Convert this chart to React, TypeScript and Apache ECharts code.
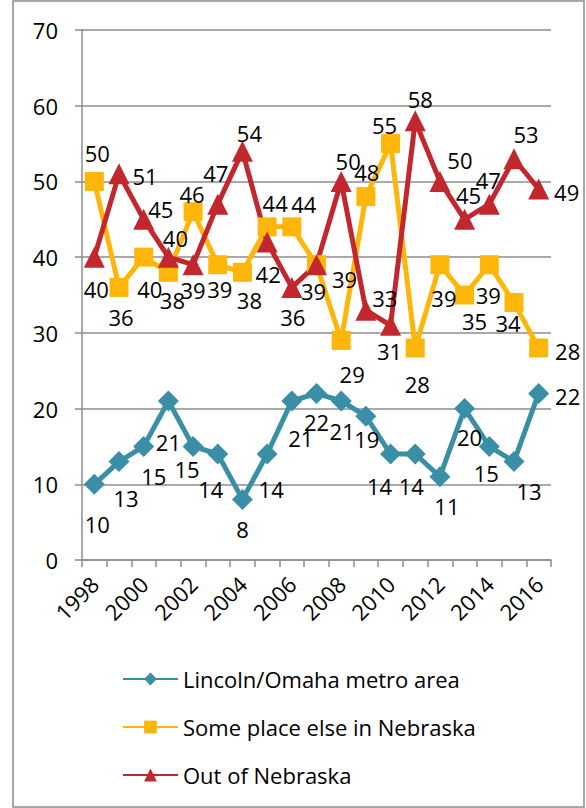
import React, { useEffect, useRef } from "react";
import * as echarts from "echarts";

const years = ["1998","1999","2000","2001","2002","2003","2004","2005","2006","2007","2008","2009","2010","2011","2012","2013","2014","2015","2016"];
const lincolnOmaha = [10,13,15,21,15,14,8,14,21,22,21,19,14,14,11,20,15,13,22];
const elseNebraska = [50,36,40,38,46,39,38,44,44,39,29,48,55,28,39,35,39,34,28];
const outNebraska = [40,51,45,40,39,47,54,42,36,39,50,33,31,58,50,45,47,53,49];

// data-label offsets (px) from each marker, as placed in the original
const lincolnLabelOffset = [[3,39],[7,35],[10,29],[0,40],[-6,22],[-7,34],[0,29],[4,34],[9,36],[0,28],[1,29],[1,22],[-11,31],[-4,31],[7,28],[5,27],[-3,26],[15,28],[29,2]];
const elseLabelOffset = [[3,-29],[2,29],[6,31],[4,27],[-1,-19],[2,23],[7,27],[8,-25],[12,-24],[-3,25],[11,33],[1,-26],[-6,-20],[2,35],[4,32],[10,25],[-1,29],[-6,19],[29,2]];
const outLabelOffset = [[2,31],[26,1],[17,-11],[7,-20],[0,24],[-2,-32],[7,-19],[1,31],[1,29],[28,13],[7,-21],[19,-13],[-1,25],[5,-23],[20,-22],[4,-25],[-1,-25],[12,-26],[28,2]];

const FONT = "'Open Sans', 'Noto Sans', sans-serif";
const FS = 22;

export default function App() {
  const ref = useRef<HTMLDivElement>(null);
  useEffect(() => {
    if (!ref.current) return;
    const chart = echarts.init(ref.current, undefined, { renderer: "svg" });
    const mk = (name: string, vals: number[], offs: number[][], color: string, symbol: string, size: number) => ({
      name,
      type: "line",
      data: vals.map((v, i) => ({
        value: v,
        label: { position: [size / 2 + offs[i][0], size / 2 + offs[i][1] + 1] },
      })),
      symbol,
      symbolSize: size,
      showAllSymbol: true,
      lineStyle: { color, width: 5 },
      itemStyle: { color },
      label: {
        show: true,
        align: "center",
        verticalAlign: "middle",
        fontSize: FS,
        color: "#000",
        fontFamily: FONT,
      },
      labelLayout: { hideOverlap: false },
    });
    chart.setOption({
      animation: false,
      graphic: [
        { type: "rect", shape: { x: 13, y: 1, width: 571, height: 806 }, style: { fill: "none", stroke: "#8c8c8c", lineWidth: 1.5 } },
      ],
      grid: { left: 82, right: 35, top: 30, bottom: 248, containLabel: false },
      legend: {
        orient: "vertical",
        left: 117,
        top: 663,
        itemWidth: 55,
        itemHeight: 16,
        itemGap: 26,
        textStyle: { fontSize: FS, fontFamily: FONT, color: "#000" },
        data: ["Lincoln/Omaha metro area", "Some place else in Nebraska", "Out of Nebraska"],
      },
      xAxis: {
        type: "category",
        data: years,
        boundaryGap: true,
        axisLine: { lineStyle: { color: "#8c8c8c", width: 1.5 } },
        axisTick: { show: true, interval: 0, length: 7, lineStyle: { color: "#8c8c8c", width: 1.5 } },
        axisLabel: { interval: 1, rotate: 45, fontSize: FS, color: "#000", fontFamily: FONT, margin: 20 },
      },
      yAxis: {
        type: "value",
        min: 0,
        max: 70,
        interval: 10,
        axisLine: { show: true, lineStyle: { color: "#8c8c8c", width: 1.5 } },
        axisTick: { show: true, length: 7, lineStyle: { color: "#8c8c8c", width: 1.5 } },
        splitLine: { lineStyle: { color: "#8c8c8c", width: 1.5 } },
        axisLabel: { fontSize: FS, color: "#000", fontFamily: FONT, margin: 24 },
      },
      series: [
        mk("Lincoln/Omaha metro area", lincolnOmaha, lincolnLabelOffset, "#3A8FA6", "diamond", 21),
        mk("Some place else in Nebraska", elseNebraska, elseLabelOffset, "#FFB60A", "rect", 19),
        mk("Out of Nebraska", outNebraska, outLabelOffset, "#C1272D", "triangle", 21),
      ],
    });
    return () => chart.dispose();
  }, []);
  return (
    <div style={{ position: "fixed", left: 0, top: 0, width: 586, height: 808, background: "#fff" }}>
      <div ref={ref} style={{ width: 586, height: 808 }} />
    </div>
  );
}
